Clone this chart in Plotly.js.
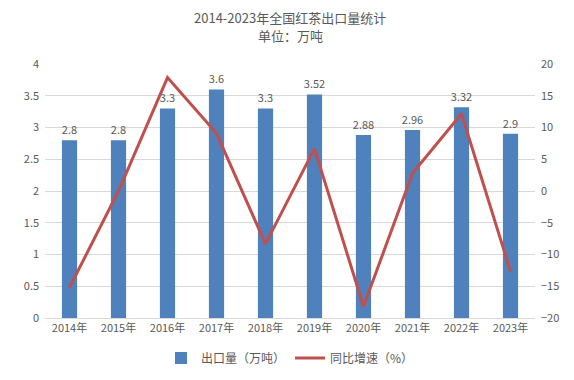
<!DOCTYPE html>
<html><head><meta charset="utf-8">
<script src="https://cdn.plot.ly/plotly-3.0.1.min.js"></script>
<style>html,body{margin:0;padding:0;background:#fff}#c{width:574px;height:380px}</style>
</head><body><div id="c"></div>
<script>
var years = ["2014年","2015年","2016年","2017年","2018年","2019年","2020年","2021年","2022年","2023年"];
var exportVol = [2.8, 2.8, 3.3, 3.6, 3.3, 3.52, 2.88, 2.96, 3.32, 2.9];
var growth = [-15.2, 0, 17.86, 9.09, -8.33, 6.67, -18.18, 2.78, 12.16, -12.65];
var barLabels = ["2.8","2.8","3.3","3.6","3.3","3.52","2.88","2.96","3.32","2.9"];
var titleLines = ["2014-2023年全国红茶出口量统计", "单位：万吨"];

var f = "'Noto Sans CJK SC', 'Noto Sans', sans-serif";
var grey = "#595959";
var data = [
  {type:"bar", x:years, y:exportVol, name:"出口量（万吨）", marker:{color:"#4f81bd"},
   width:0.31, text:barLabels, textposition:"outside", cliponaxis:false, constraintext:"none", textangle:0,
   textfont:{family:f,size:11,color:grey}, hoverinfo:"none"},
  {type:"scatter", mode:"lines", x:years, y:growth, yaxis:"y2", name:"同比增速（%）",
   line:{color:"#c0504d", width:3}, hoverinfo:"none"}
];
var layout = {
  width:574, height:380,
  margin:{l:45, r:39, t:64, b:62},
  paper_bgcolor:"#fff", plot_bgcolor:"#fff",
  font:{family:f, color:grey, size:11},
  annotations:[
    {text:titleLines[0], xref:"paper", yref:"paper", x:0.5, y:(318-17)/254, xanchor:"center", yanchor:"middle",
     showarrow:false, font:{family:f,size:13,color:grey}},
    {text:titleLines[1], xref:"paper", yref:"paper", x:0.5, y:(318-35)/254, xanchor:"center", yanchor:"middle",
     showarrow:false, font:{family:f,size:13,color:grey}}
  ],
  bargap:0.69,
  uniformtext:{mode:false},
  xaxis:{type:"category", showgrid:false, showline:true, linecolor:"#d9d9d9", ticks:"",
         tickfont:{family:f,size:11,color:grey}},
  yaxis:{range:[0,4], dtick:0.5, gridcolor:"#d9d9d9", zeroline:false, showline:false,
         tickfont:{family:f,size:11,color:grey}, ticksuffix:"  "},
  yaxis2:{range:[-20,20], dtick:5, overlaying:"y", side:"right", showgrid:false, zeroline:false,
          tickfont:{family:f,size:11,color:grey}, tickprefix:"  "},
  legend:{orientation:"h", x:0.5, xanchor:"center", yref:"container", y:1-358/380, yanchor:"middle",
          font:{family:f,size:12,color:grey}},
  showlegend:true
};
Plotly.newPlot("c", data, layout, {displayModeBar:false, staticPlot:true});
</script></body></html>
